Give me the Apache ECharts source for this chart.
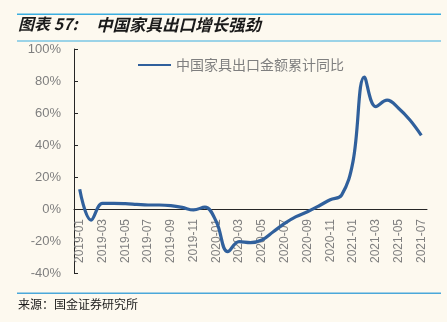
<!DOCTYPE html>
<html><head><meta charset="utf-8">
<script src="https://cdn.jsdelivr.net/npm/echarts@6/dist/echarts.min.js"></script>
<style>html,body{margin:0;padding:0;background:#FDF9EF;}#c{width:447px;height:322px;}</style>
</head><body><div id="c"></div>
<script>
const categories = ['2019-01','2019-02','2019-03','2019-04','2019-05','2019-06','2019-07','2019-08','2019-09','2019-10','2019-11','2019-12',
'2020-01','2020-02','2020-03','2020-04','2020-05','2020-06','2020-07','2020-08','2020-09','2020-10','2020-11','2020-12',
'2021-01','2021-02','2021-03','2021-04','2021-05','2021-06','2021-07'];
const seriesName = '中国家具出口金额累计同比';
const values = [12.3,-6.9,3.5,3.5,3.3,2.9,2.5,2.5,2.1,1.0,-0.6,1.2,
-8,-26.7,-20.4,-21,-19.4,-14.2,-9,-4.8,-1.7,1.9,5.8,8.7,
29.6,82.5,64,68,63,55.6,46];
const yTicks = {min:-40, max:100, interval:20};
const titlePrefix = '图表 57:';
const titleText = '中国家具出口增长强劲';
const sourceText = '来源：国金证券研究所';

const gridH = 224;
const zeroOffset = gridH * (0 - yTicks.min) / (yTicks.max - yTicks.min);

const chart = echarts.init(document.getElementById('c'), null, {renderer:'canvas'});
chart.setOption({
  backgroundColor:'#FDF9EF',
  animation:false,
  grid:{left:74, right:20, top:49, height:gridH, containLabel:false, outerBoundsMode:'none'},
  legend:{
    data:[seriesName], left:133, top:53, itemWidth:33, itemHeight:10, itemGap:4,
    icon:'path://M0,4 L33,4 L33,6 L0,6 Z',
    textStyle:{fontSize:14, color:'#7F7F7F', fontFamily:'Noto Sans CJK SC'}
  },
  xAxis:{
    type:'category', data:categories, boundaryGap:true, position:'bottom', offset:-zeroOffset,
    axisLine:{onZero:false, lineStyle:{color:'#262626', width:1}},
    axisTick:{inside:true, interval:1, length:5, lineStyle:{color:'#262626'}},
    axisLabel:{interval:1, rotate:90, margin:10, fontSize:12, color:'#7F7F7F', fontFamily:'Liberation Sans'}
  },
  yAxis:{
    type:'value', min:yTicks.min, max:yTicks.max, interval:yTicks.interval,
    axisLine:{show:true, lineStyle:{color:'#262626', width:1}},
    axisTick:{show:true, inside:true, length:4, lineStyle:{color:'#262626'}},
    splitLine:{show:false},
    axisLabel:{formatter:'{value}%', fontSize:13, color:'#7F7F7F', margin:13, fontFamily:'Liberation Sans'}
  },
  series:[{
    name:seriesName, type:'line', data:values, smooth:0.4, showSymbol:false,
    lineStyle:{color:'#30609C', width:3.2}, itemStyle:{color:'#30609C'}
  }],
  graphic:[
    {type:'rect', shape:{x:17, y:13.5, width:424, height:1.5}, style:{fill:'#3AAEE0'}},
    {type:'rect', shape:{x:17, y:40.5, width:424, height:1}, style:{fill:'#3AAEE0'}},
    {type:'rect', shape:{x:17, y:292.5, width:424, height:1.5}, style:{fill:'#4BA8DA'}},
    {type:'text', left:18, top:16, style:{text:titlePrefix, font:'italic bold 16px "Noto Sans CJK SC"', fill:'#1A1A1A'}},
    {type:'text', left:96, top:16, style:{text:titleText, font:'italic bold 16.5px "Noto Sans CJK SC"', fill:'#1A1A1A'}},
    {type:'text', left:18, top:298, style:{text:sourceText, font:'12px "Noto Sans CJK SC"', fill:'#1A1A1A'}}
  ]
});
</script></body></html>
